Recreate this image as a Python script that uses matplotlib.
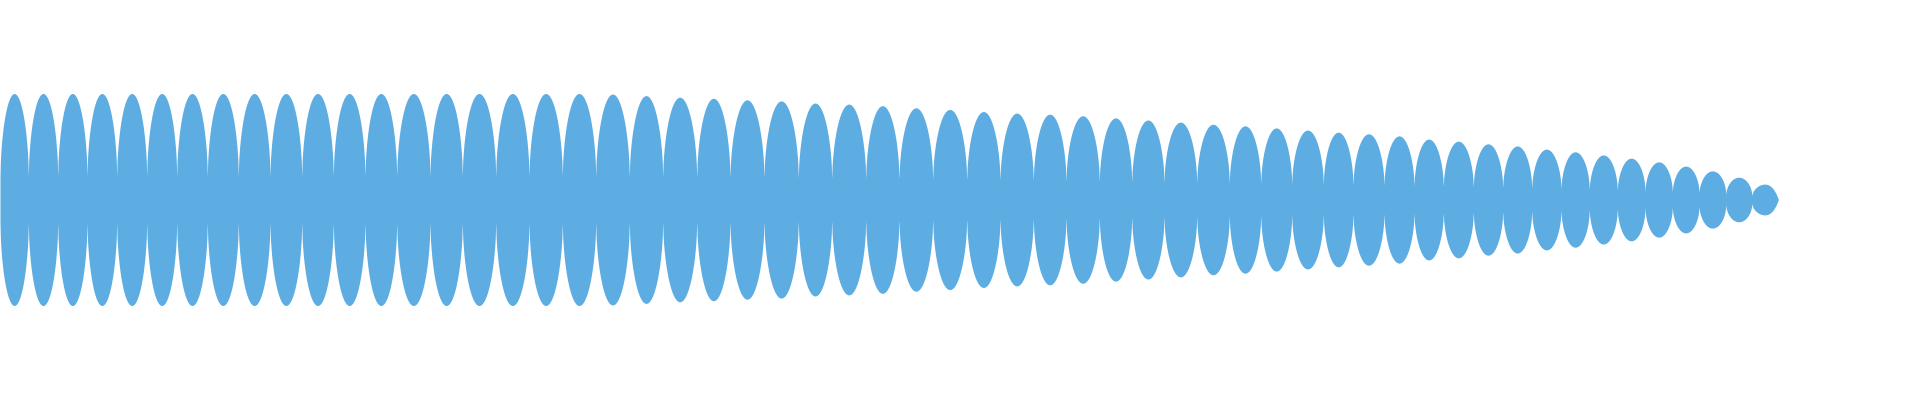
import numpy as np
import matplotlib
matplotlib.use("Agg")
import matplotlib.pyplot as plt

# joints between the lobes of the waveform (sample position)
edges = [0, 28.3, 57.7, 87, 116.7, 146.7, 176.7, 207.3, 238.3, 270, 301.7,
         333.3, 365, 396.7, 430, 462.3, 495.7, 529, 562.3, 595.7, 629.3,
         662.7, 696.7, 730, 764, 798.3, 831.7, 865.7, 899, 932.7, 966.7,
         1000, 1033.3, 1066, 1099.3, 1131.7, 1164, 1196.7, 1229.3, 1260.7,
         1291.7, 1323.3, 1353, 1384, 1414, 1443.3, 1473.3, 1502.7, 1531.7,
         1561, 1589.3, 1617.3, 1645, 1672.3, 1699, 1725.7, 1751.7, 1778.3]

# peak amplitude of each lobe (normalised)
peaks = [1.0] * 15 + \
        [1.0, 1.0, 1.0, 1.0, 0.995, 0.98, 0.965, 0.955, 0.94, 0.93, 0.91, 0.90, 0.885] + \
        [0.865, 0.85, 0.83, 0.815, 0.805, 0.79, 0.77, 0.75, 0.73, 0.71, 0.695, 0.675, 0.655, 0.635] + \
        [0.62, 0.60, 0.57, 0.55, 0.525, 0.505, 0.475, 0.45, 0.42, 0.39, 0.355, 0.315, 0.27, 0.21, 0.145]

color = "#5dade2"
floor = 0.22

xs, envs = [], []
for i, a in enumerate(peaks):
    x0, x1 = edges[i], edges[i + 1]
    x = np.linspace(x0, x1, 80)
    t = (x - (x0 + x1) / 2) / ((x1 - x0) / 2)
    shape = np.clip(1 - t ** 2, 0, None) ** 0.575
    fl = np.full_like(t, floor)
    if i == len(peaks) - 1:
        # last lobe runs out to a point
        shape = np.clip(1 - t ** 2, 0, None) ** np.where(t > 0, 0.9, 0.575)
        fl = np.where(t > 0, floor * (1 - t), floor)
    xs.append(x)
    envs.append(a * (fl + (1 - fl) * shape))
xs = np.concatenate(xs)
env = np.concatenate(envs)

fig = plt.figure(figsize=(19.2, 4), dpi=100)
ax = fig.add_axes([0, 0, 1, 1])
ax.fill_between(xs, -env, env, color=color, linewidth=0)

ax.set_xlim(0, 1920)
ax.set_ylim(-200.5 / 106, 199.5 / 106)
ax.axis("off")
fig.savefig("out.png", dpi=100, facecolor="white")
